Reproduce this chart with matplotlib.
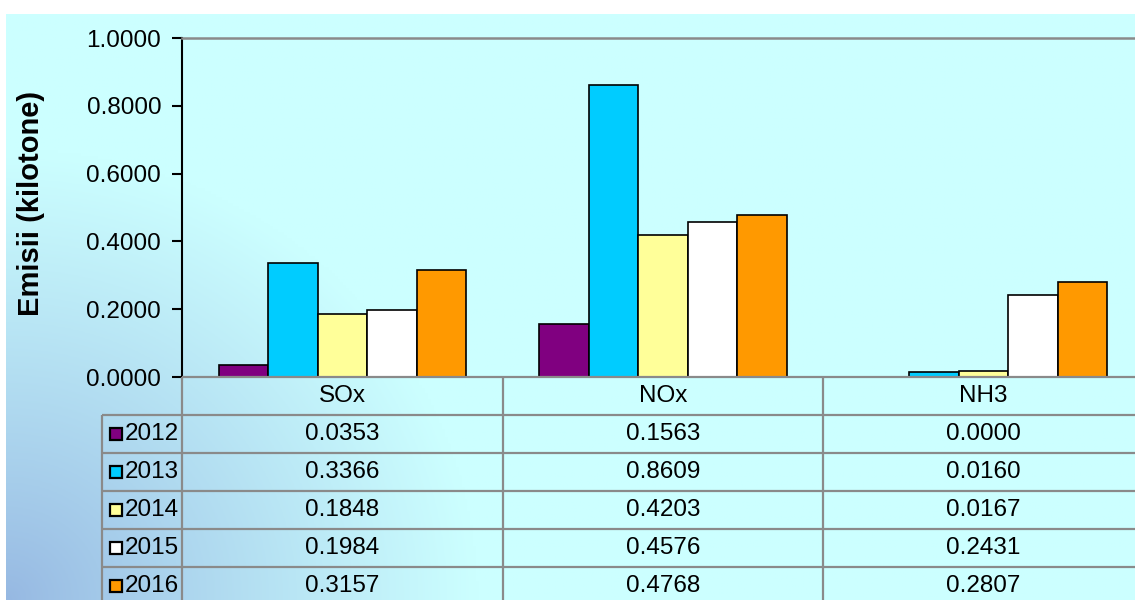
import numpy as np
import matplotlib
matplotlib.use("Agg")
import matplotlib.pyplot as plt

# 1. Data (kilotone)
pollutants = ["SOx", "NOx", "NH3"]
years = ["2012", "2013", "2014", "2015", "2016"]
e2012 = [0.0353, 0.1563, 0.0000]
e2013 = [0.3366, 0.8609, 0.0160]
e2014 = [0.1848, 0.4203, 0.0167]
e2015 = [0.1984, 0.4576, 0.2431]
e2016 = [0.3157, 0.4768, 0.2807]
series = [e2012, e2013, e2014, e2015, e2016]
colors = ["#800080", "#00CCFF", "#FFFF99", "#FFFFFF", "#FF9900"]
yticks = [0.0, 0.2, 0.4, 0.6, 0.8, 1.0]

plt.rcParams["font.family"] = ["Liberation Sans", "DejaVu Sans"]
fs = 17.5
grid_col = "#8a8a8a"

W, H = 1135, 600
fig = plt.figure(figsize=(W / 100, H / 100), dpi=100)

# 2. Background: white margin, cyan area with blue glow in the lower-left corner
bg = fig.add_axes([6 / W, 0, 1 - 6 / W, (H - 14) / H], zorder=-10)
gx, gy = np.meshgrid(np.linspace(0, W - 6, 400), np.linspace(H - 14, 0, 200))
t = np.clip(np.sqrt((gx / 470) ** 2 + (gy / 450) ** 2), 0, 1) ** 0.9
c0 = np.array([150, 184, 226]) / 255
c1 = np.array([204, 255, 255]) / 255
img = c0 + (c1 - c0) * t[..., None]
bg.imshow(img, aspect="auto", extent=[0, 1, 0, 1])
bg.axis("off")

# 3. Bar chart
ax_left, ax_w = 182, 962
ax_top, ax_bot = 38, 377
ax = fig.add_axes([ax_left / W, (H - ax_bot) / H, ax_w / W, (ax_bot - ax_top) / H])
ax.set_facecolor("none")
x = np.arange(len(pollutants))
bw = 0.1544
for i, vals in enumerate(series):
    ax.bar(x + (i - 2) * bw, vals, width=bw, color=colors[i],
           edgecolor="black", linewidth=1.2, zorder=3)
ax.set_xlim(-0.5, len(pollutants) - 0.5)
ax.set_ylim(0, 1.0)
ax.set_yticks(yticks)
ax.set_yticklabels([f"{v:.4f}" for v in yticks], fontsize=fs)
ax.set_xticks([])
ax.tick_params(axis="y", length=7, width=1.5, pad=8)
ax.spines["left"].set_linewidth(1.5)
ax.spines["top"].set_color(grid_col)
ax.spines["top"].set_linewidth(1.8)
ax.spines["right"].set_visible(False)
ax.spines["bottom"].set_visible(False)

fig.text(31 / W, (H - 203) / H, "Emisii (kilotone)", rotation=90,
         ha="center", va="center", fontsize=21, fontweight="bold")

# 4. Data table under the chart
row_px = 38
tax = fig.add_axes([ax_left / W, 0, ax_w / W, (H - ax_bot) / H])
tax.set_facecolor("none")
tax.set_xlim(ax.get_xlim())
n_rows = (H - ax_bot) / row_px
tax.set_ylim(n_rows, 0)
tax.axis("off")

lab_w = 80 / (ax_w / len(pollutants))
x0 = -0.5 - lab_w
lk = dict(color=grid_col, linewidth=1.6, clip_on=False, solid_capstyle="butt")
tax.plot([-0.5, len(pollutants) - 0.5], [0, 0], **lk)
for r in range(1, len(years) + 1):
    tax.plot([x0, len(pollutants) - 0.5], [r, r], **lk)
for c in range(len(pollutants) + 1):
    tax.plot([c - 0.5, c - 0.5], [0, n_rows], **lk)
tax.plot([x0, x0], [1, n_rows], **lk)

for j, name in enumerate(pollutants):
    tax.text(j, 0.5, name, ha="center", va="center", fontsize=fs)
for i, (yr, vals) in enumerate(zip(years, series)):
    r = i + 1.5
    tax.plot(x0 + 0.045, r, marker="s", markersize=8.5, markerfacecolor=colors[i],
             markeredgecolor="black", markeredgewidth=1.6, clip_on=False)
    tax.text(x0 + 0.072, r, yr, ha="left", va="center", fontsize=fs)
    for j, v in enumerate(vals):
        tax.text(j, r, f"{v:.4f}", ha="center", va="center", fontsize=fs)

fig.savefig("out.png", dpi=100)
